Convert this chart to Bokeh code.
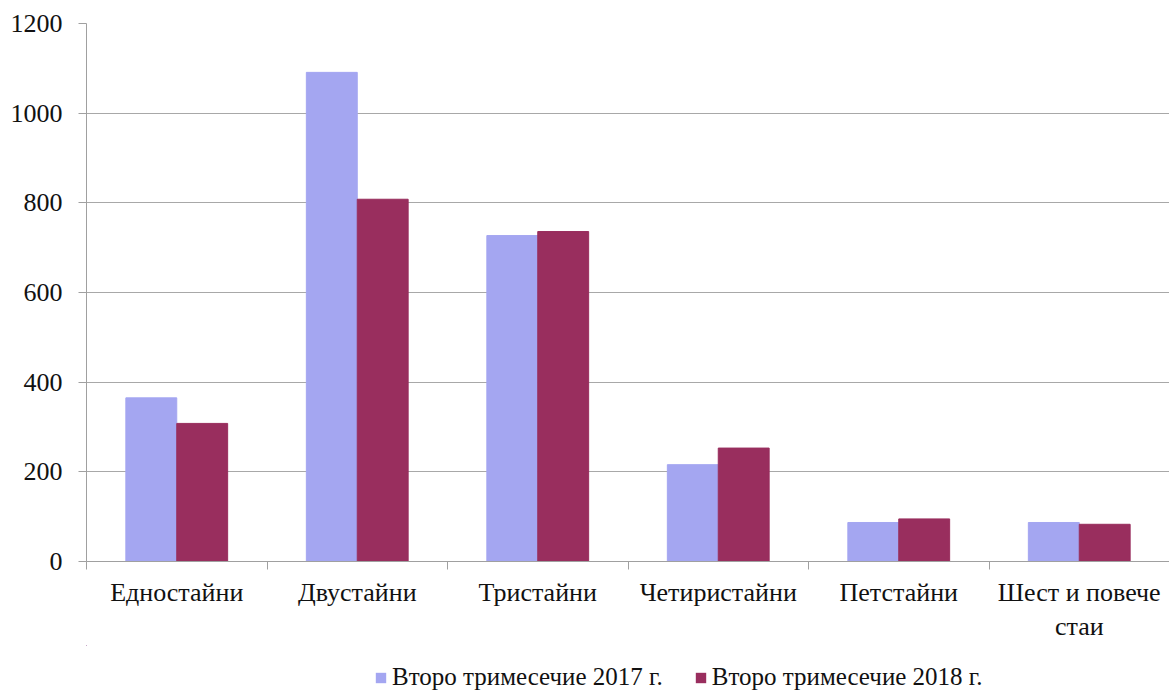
from bokeh.plotting import figure
from bokeh.layouts import column
from bokeh.models import Range1d, FixedTicker, Legend, LegendItem, ColumnDataSource
from bokeh.embed import file_html
from bokeh.resources import INLINE

categories = ["Едностайни", "Двустайни", "Тристайни", "Четиристайни", "Петстайни", "Шест и повече\nстаи"]
series_names = ["Второ тримесечие 2017 г.", "Второ тримесечие 2018 г."]
values_2017 = [365, 1091, 727, 216, 87, 87]
values_2018 = [308, 808, 736, 253, 95, 83]
y_ticks = [0, 200, 400, 600, 800, 1000, 1200]
colors = ["#A4A6F1", "#992E5E"]

FONT = "Liberation Serif"
bar_w = 0.282
centers = [i + 0.5 for i in range(len(categories))]
bounds = [i for i in range(len(categories) + 1)]

src = ColumnDataSource(dict(
    x1=[c - bar_w / 2 for c in centers],
    x2=[c + bar_w / 2 for c in centers],
    v17=values_2017,
    v18=values_2018,
))

p = figure(width=1169, height=645, output_backend="svg", toolbar_location=None,
           x_range=Range1d(0, len(categories)), y_range=Range1d(0, 1200),
           min_border_left=86, min_border_right=0, min_border_top=23, min_border_bottom=84)
p.outline_line_color = None
p.background_fill_color = "white"

r1 = p.vbar(x="x1", top="v17", width=bar_w, source=src, fill_color=colors[0], line_color=colors[0])
r2 = p.vbar(x="x2", top="v18", width=bar_w, source=src, fill_color=colors[1], line_color=colors[1])

# x axis
xa = p.xaxis[0]
xa.ticker = FixedTicker(ticks=centers, minor_ticks=bounds)
xa.major_label_overrides = {c: lab for c, lab in zip(centers, categories)}
xa.major_tick_line_color = None
xa.major_tick_out = 8
xa.major_tick_in = 0
xa.minor_tick_line_color = "#a0a0a0"
xa.minor_tick_out = 8
xa.minor_tick_in = 0
xa.axis_line_color = "#a0a0a0"
xa.major_label_text_font = FONT
xa.major_label_text_font_size = "26px"
xa.major_label_text_color = "#111111"
xa.major_label_standoff = 8

# y axis
ya = p.yaxis[0]
ya.ticker = FixedTicker(ticks=y_ticks)
ya.minor_tick_line_color = None
ya.major_tick_line_color = "#a0a0a0"
ya.major_tick_out = 8
ya.major_tick_in = 0
ya.axis_line_color = "#a0a0a0"
ya.major_label_text_font = FONT
ya.major_label_text_font_size = "26px"
ya.major_label_text_color = "#111111"
ya.major_label_standoff = 16

p.xgrid.grid_line_color = None
p.ygrid.ticker = FixedTicker(ticks=y_ticks)
p.ygrid.grid_line_color = "#a8a8a8"
p.ygrid.grid_line_width = 1

# legend strip (separate figure below the chart); its bars lie outside its view
leg = figure(width=1169, height=46, output_backend="svg", toolbar_location=None,
             x_range=Range1d(100, 101), y_range=Range1d(-20000, -19000),
             min_border=0, x_axis_location=None, y_axis_location=None)
leg.outline_line_color = None
leg.xgrid.grid_line_color = None
leg.ygrid.grid_line_color = None
l1 = leg.vbar(x="x1", top="v17", width=bar_w, source=src, fill_color=colors[0], line_color=None)
l2 = leg.vbar(x="x2", top="v18", width=bar_w, source=src, fill_color=colors[1], line_color=None)

legend = Legend(items=[LegendItem(label=series_names[0], renderers=[l1]),
                       LegendItem(label=series_names[1], renderers=[l2])],
                orientation="horizontal", location=(288, 0),
                label_text_font=FONT, label_text_font_size="25px", label_text_color="#111111",
                glyph_width=13, glyph_height=13, spacing=31,
                border_line_color=None, background_fill_alpha=0,
                margin=0, padding=0, label_standoff=5, label_height=22)
leg.add_layout(legend, "center")

layout = column(p, leg, spacing=0)
open("out.html", "w").write(file_html(layout, INLINE))
